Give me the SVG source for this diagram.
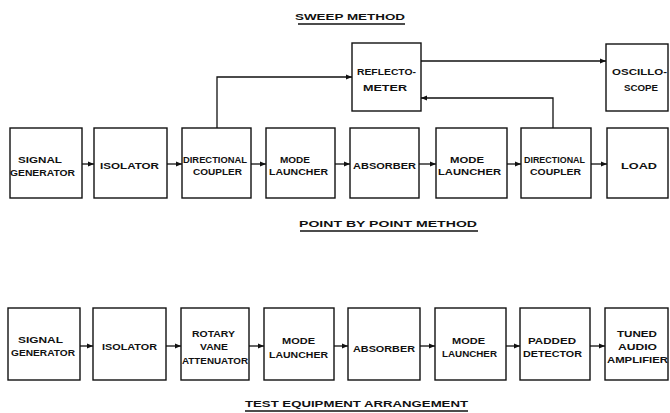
<svg xmlns="http://www.w3.org/2000/svg" width="670" height="413" viewBox="0 0 670 413">
<style>
rect.b{fill:#fff;stroke:#111;stroke-width:1.4}
text{font-family:"Liberation Sans",Arial,sans-serif;font-weight:bold;font-size:8.5px;fill:#111}
text.t{font-size:9.5px}
.c{fill:none;stroke:#111;stroke-width:1.3}
.u{stroke:#111;stroke-width:1.3}
</style>
<defs>
<marker id="ah" markerUnits="userSpaceOnUse" markerWidth="7" markerHeight="6" refX="6" refY="3" orient="auto">
<path d="M0,0.5 L6,3 L0,5.5 z" fill="#111"/>
</marker>
</defs>
<rect width="670" height="413" fill="#fff"/>

<g id="titles">
<text class="t" x="295" y="20" textLength="110" lengthAdjust="spacingAndGlyphs">SWEEP METHOD</text>
<line class="u" x1="298" y1="24" x2="405" y2="24"/>
<text class="t" x="299" y="227" textLength="178" lengthAdjust="spacingAndGlyphs">POINT BY POINT METHOD</text>
<line class="u" x1="300" y1="231" x2="478" y2="231"/>
<text class="t" x="245" y="407" textLength="223" lengthAdjust="spacingAndGlyphs">TEST EQUIPMENT ARRANGEMENT</text>
<line class="u" x1="245" y1="411" x2="468" y2="411"/>
</g>

<g id="connectors">
<path class="c" d="M82,164 H94" marker-end="url(#ah)"/>
<path class="c" d="M167,164 H182" marker-end="url(#ah)"/>
<path class="c" d="M251,164 H266" marker-end="url(#ah)"/>
<path class="c" d="M335,164 H350" marker-end="url(#ah)"/>
<path class="c" d="M419,164 H436" marker-end="url(#ah)"/>
<path class="c" d="M507,164 H521" marker-end="url(#ah)"/>
<path class="c" d="M591,164 H607" marker-end="url(#ah)"/>
<path class="c" d="M217,128 V77 H352" marker-end="url(#ah)"/>
<path class="c" d="M421,61 H606" marker-end="url(#ah)"/>
<path class="c" d="M553,128 V98 H421" marker-end="url(#ah)"/>
<path class="c" d="M80,346 H93" marker-end="url(#ah)"/>
<path class="c" d="M166,346 H181" marker-end="url(#ah)"/>
<path class="c" d="M249,346 H264" marker-end="url(#ah)"/>
<path class="c" d="M334,346 H348" marker-end="url(#ah)"/>
<path class="c" d="M420,346 H435" marker-end="url(#ah)"/>
<path class="c" d="M506,346 H520" marker-end="url(#ah)"/>
<path class="c" d="M590,346 H605" marker-end="url(#ah)"/>
</g>

<g id="reflectometer">
<rect class="b" x="352" y="43" width="69" height="68"/>
<text x="357" y="75" textLength="59" lengthAdjust="spacingAndGlyphs">REFLECTO-</text>
<text x="363" y="91" textLength="44" lengthAdjust="spacingAndGlyphs">METER</text>
</g>
<g id="oscilloscope">
<rect class="b" x="606" y="44" width="62" height="67"/>
<text x="612" y="75" textLength="55" lengthAdjust="spacingAndGlyphs">OSCILLO-</text>
<text x="624" y="91" textLength="34" lengthAdjust="spacingAndGlyphs">SCOPE</text>
</g>

<g id="sweep-signal-generator">
<rect class="b" x="10" y="128" width="72" height="70"/>
<text x="18" y="163" textLength="44" lengthAdjust="spacingAndGlyphs">SIGNAL</text>
<text x="10" y="176" textLength="65" lengthAdjust="spacingAndGlyphs">GENERATOR</text>
</g>
<g id="sweep-isolator">
<rect class="b" x="94" y="128" width="73" height="70"/>
<text x="100" y="169" textLength="59" lengthAdjust="spacingAndGlyphs">ISOLATOR</text>
</g>
<g id="sweep-directional-coupler-1">
<rect class="b" x="182" y="128" width="69" height="70"/>
<text x="183" y="163" textLength="64" lengthAdjust="spacingAndGlyphs">DIRECTIONAL</text>
<text x="193" y="175" textLength="49" lengthAdjust="spacingAndGlyphs">COUPLER</text>
</g>
<g id="sweep-mode-launcher-1">
<rect class="b" x="266" y="128" width="69" height="70"/>
<text x="280" y="163" textLength="30" lengthAdjust="spacingAndGlyphs">MODE</text>
<text x="269" y="175" textLength="59" lengthAdjust="spacingAndGlyphs">LAUNCHER</text>
</g>
<g id="sweep-absorber">
<rect class="b" x="350" y="128" width="69" height="70"/>
<text x="353" y="169" textLength="63" lengthAdjust="spacingAndGlyphs">ABSORBER</text>
</g>
<g id="sweep-mode-launcher-2">
<rect class="b" x="436" y="128" width="71" height="70"/>
<text x="450" y="163" textLength="34" lengthAdjust="spacingAndGlyphs">MODE</text>
<text x="438" y="175" textLength="63" lengthAdjust="spacingAndGlyphs">LAUNCHER</text>
</g>
<g id="sweep-directional-coupler-2">
<rect class="b" x="521" y="128" width="70" height="70"/>
<text x="524" y="163" textLength="61" lengthAdjust="spacingAndGlyphs">DIRECTIONAL</text>
<text x="530" y="175" textLength="51" lengthAdjust="spacingAndGlyphs">COUPLER</text>
</g>
<g id="sweep-load">
<rect class="b" x="607" y="128" width="61" height="70"/>
<text x="621" y="169" textLength="36" lengthAdjust="spacingAndGlyphs">LOAD</text>
</g>

<g id="point-signal-generator">
<rect class="b" x="8" y="308" width="72" height="72"/>
<text x="18" y="343" textLength="45" lengthAdjust="spacingAndGlyphs">SIGNAL</text>
<text x="11" y="356" textLength="64" lengthAdjust="spacingAndGlyphs">GENERATOR</text>
</g>
<g id="point-isolator">
<rect class="b" x="93" y="308" width="73" height="72"/>
<text x="102" y="350" textLength="55" lengthAdjust="spacingAndGlyphs">ISOLATOR</text>
</g>
<g id="point-rotary-vane-attenuator">
<rect class="b" x="181" y="308" width="68" height="72"/>
<text x="192" y="337" textLength="43" lengthAdjust="spacingAndGlyphs">ROTARY</text>
<text x="200" y="350" textLength="28" lengthAdjust="spacingAndGlyphs">VANE</text>
<text x="182" y="364" textLength="66" lengthAdjust="spacingAndGlyphs">ATTENUATOR</text>
</g>
<g id="point-mode-launcher-1">
<rect class="b" x="264" y="308" width="70" height="72"/>
<text x="282" y="344" textLength="33" lengthAdjust="spacingAndGlyphs">MODE</text>
<text x="269" y="358" textLength="59" lengthAdjust="spacingAndGlyphs">LAUNCHER</text>
</g>
<g id="point-absorber">
<rect class="b" x="348" y="308" width="72" height="72"/>
<text x="353" y="352" textLength="62" lengthAdjust="spacingAndGlyphs">ABSORBER</text>
</g>
<g id="point-mode-launcher-2">
<rect class="b" x="435" y="308" width="71" height="72"/>
<text x="452" y="344" textLength="33" lengthAdjust="spacingAndGlyphs">MODE</text>
<text x="442" y="357" textLength="55" lengthAdjust="spacingAndGlyphs">LAUNCHER</text>
</g>
<g id="point-padded-detector">
<rect class="b" x="520" y="308" width="70" height="72"/>
<text x="528" y="344" textLength="48" lengthAdjust="spacingAndGlyphs">PADDED</text>
<text x="523" y="357" textLength="59" lengthAdjust="spacingAndGlyphs">DETECTOR</text>
</g>
<g id="point-tuned-audio-amplifier">
<rect class="b" x="605" y="308" width="63" height="72"/>
<text x="617" y="337" textLength="40" lengthAdjust="spacingAndGlyphs">TUNED</text>
<text x="618" y="350" textLength="39" lengthAdjust="spacingAndGlyphs">AUDIO</text>
<text x="607" y="363" textLength="61" lengthAdjust="spacingAndGlyphs">AMPLIFIER</text>
</g>
</svg>
